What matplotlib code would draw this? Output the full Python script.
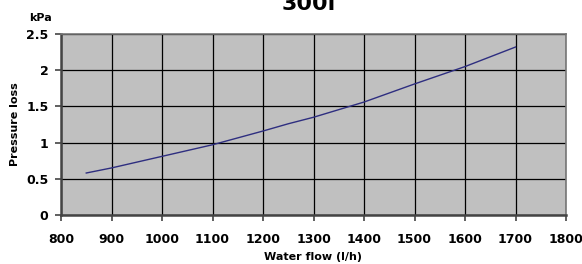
import matplotlib
matplotlib.use("Agg")
import matplotlib.pyplot as plt

# Pressure loss curve
flow = [850, 900, 1000, 1100, 1200, 1250, 1300, 1400, 1500, 1600, 1700]
pressure = [0.58, 0.65, 0.81, 0.97, 1.16, 1.26, 1.35, 1.56, 1.81, 2.05, 2.32]

x_ticks = [800, 900, 1000, 1100, 1200, 1300, 1400, 1500, 1600, 1700, 1800]
y_ticks = [0, 0.5, 1, 1.5, 2, 2.5]
y_labels = ["0", "0.5", "1", "1.5", "2", "2.5"]

plt.rcParams.update({
    "font.family": "DejaVu Sans",
    "font.weight": "bold",
})

fig = plt.figure(figsize=(5.82, 2.64), dpi=100)
ax = fig.add_axes([61 / 582, 49 / 264, 505 / 582, 181 / 264])
ax.set_facecolor("#c0c0c0")

ax.plot(flow, pressure, color="#2e2e80", linewidth=1.0, zorder=3)

ax.set_xlim(800, 1800)
ax.set_ylim(0, 2.5)
ax.set_xticks(x_ticks)
ax.set_yticks(y_ticks)
ax.set_yticklabels(y_labels)
ax.grid(True, color="black", linewidth=0.9, zorder=1)
ax.set_axisbelow(True)

ax.tick_params(axis="both", labelsize=9, length=4, width=1.2, color="#444444")
ax.tick_params(axis="x", pad=9)
ax.tick_params(axis="y", pad=5)
for lab in ax.get_xticklabels() + ax.get_yticklabels():
    lab.set_fontweight("bold")

for side in ["left", "bottom"]:
    ax.spines[side].set_color("#444444")
    ax.spines[side].set_linewidth(1.8)
for side in ["top", "right"]:
    ax.spines[side].set_color("#777777")
    ax.spines[side].set_linewidth(1.2)

ax.set_xlabel("Water flow (l/h)", fontsize=8, fontweight="bold", labelpad=4)
fig.text(15 / 582, (49 + 181 / 2) / 264, "Pressure loss", rotation=90,
         ha="center", va="center", fontsize=8, fontweight="bold")
fig.text(40 / 582, 1 - 18 / 264, "kPa", ha="center", va="center",
         fontsize=8, fontweight="bold")
fig.text(309 / 582, 1 - 10 / 264, "300l", ha="center", va="baseline",
         fontsize=16, fontweight="bold")

fig.savefig("out.png", dpi=100)
